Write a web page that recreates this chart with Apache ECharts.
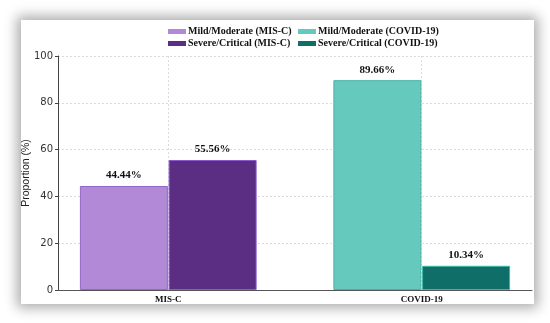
<!DOCTYPE html>
<html>
<head>
<meta charset="utf-8">
<script src="https://cdn.jsdelivr.net/npm/echarts@6/dist/echarts.min.js"></script>
<style>
html,body{margin:0;padding:0;background:#ffffff;width:550px;height:323px;overflow:hidden;}
#card{position:absolute;left:21px;top:20px;width:513px;height:284px;background:#fff;box-shadow:0 0 12px 4px rgba(0,0,0,0.33);}
#chart{position:absolute;left:0;top:0;width:550px;height:323px;}
</style>
</head>
<body>
<div id="card"></div>
<div id="chart"></div>
<script>
const categories = ['MIS-C', 'COVID-19'];
const seriesNames = ['Mild/Moderate (MIS-C)', 'Severe/Critical (MIS-C)', 'Mild/Moderate (COVID-19)', 'Severe/Critical (COVID-19)'];
const misValues = [44.44, 55.56];
const covidValues = [89.66, 10.34];
const yTicks = [0, 20, 40, 60, 80, 100];

const barW = 0.35;
const fills = ['#b189d7', '#5b2d83', '#66c9bd', '#0f6e68'];
const borders = ['#9466c8', '#8a5ad0', '#45b3a4', '#3cb7a6'];

const points = [
  [0 - barW / 2, misValues[0]],
  [0 + barW / 2, misValues[1]],
  [1 - barW / 2, covidValues[0]],
  [1 + barW / 2, covidValues[1]]
];

const chart = echarts.init(document.getElementById('chart'), null, {renderer: 'canvas'});

const series = seriesNames.map((name, i) => ({
  name: name,
  type: 'bar',
  data: [points[i]],
  barWidth: 88,
  barGap: '-100%',
  itemStyle: {color: fills[i], borderColor: borders[i], borderWidth: 1},
  label: {
    show: true, position: 'top', distance: 5,
    fontFamily: 'Liberation Serif', fontWeight: 'bold', fontSize: 11, color: '#111',
    formatter: p => p.value[1].toFixed(2) + '%'
  },
  z: 3
}));
series[0].markLine = {
  silent: true, symbol: ['none', 'none'], label: {show: false},
  lineStyle: {type: [2, 2], color: '#dcdcdc', width: 1},
  z: 1,
  data: categories.map((c, i) => ({xAxis: i}))
};

const legendText = {fontFamily: 'Liberation Serif', fontWeight: 'bold', fontSize: 10, color: '#111', padding: [0, 0, 0, -3], lineHeight: 11};

chart.setOption({
  backgroundColor: 'transparent',
  animation: false,
  grid: {left: 58, right: 18, top: 56, bottom: 33},
  legend: [
    {
      orient: 'vertical', left: 163, top: 21, itemWidth: 18, itemHeight: 5, itemGap: 1, icon: 'rect',
      itemStyle: {borderWidth: 0},
      data: [seriesNames[0], seriesNames[1]],
      textStyle: legendText
    },
    {
      orient: 'vertical', left: 293, top: 21, itemWidth: 18, itemHeight: 5, itemGap: 1, icon: 'rect',
      itemStyle: {borderWidth: 0},
      data: [seriesNames[2], seriesNames[3]],
      textStyle: legendText
    }
  ],
  xAxis: {
    type: 'value', min: -0.435, max: 1.435,
    axisLine: {show: true, onZero: false, lineStyle: {color: '#555', width: 1}},
    axisTick: {show: false},
    splitLine: {show: false},
    axisLabel: {
      customValues: [0, 1],
      formatter: v => categories[Math.round(v)],
      fontFamily: 'Liberation Serif', fontWeight: 'bold', fontSize: 9, color: '#111', margin: 5
    }
  },
  yAxis: {
    type: 'value', min: yTicks[0], max: yTicks[yTicks.length - 1], interval: 20,
    name: 'Proportion (%)', nameLocation: 'middle', nameGap: 26, nameMoveOverlap: false,
    nameTextStyle: {fontFamily: 'Liberation Sans', fontSize: 10.5, color: '#222'},
    axisLine: {show: true, onZero: false, lineStyle: {color: '#444', width: 1}},
    axisTick: {show: true, length: 3, lineStyle: {color: '#444'}},
    axisLabel: {fontFamily: 'DejaVu Sans', fontSize: 10, color: '#333', margin: 5},
    splitLine: {show: true, lineStyle: {type: [2, 2], color: '#dcdcdc', width: 1}}
  },
  series: series
});
</script>
</body>
</html>
